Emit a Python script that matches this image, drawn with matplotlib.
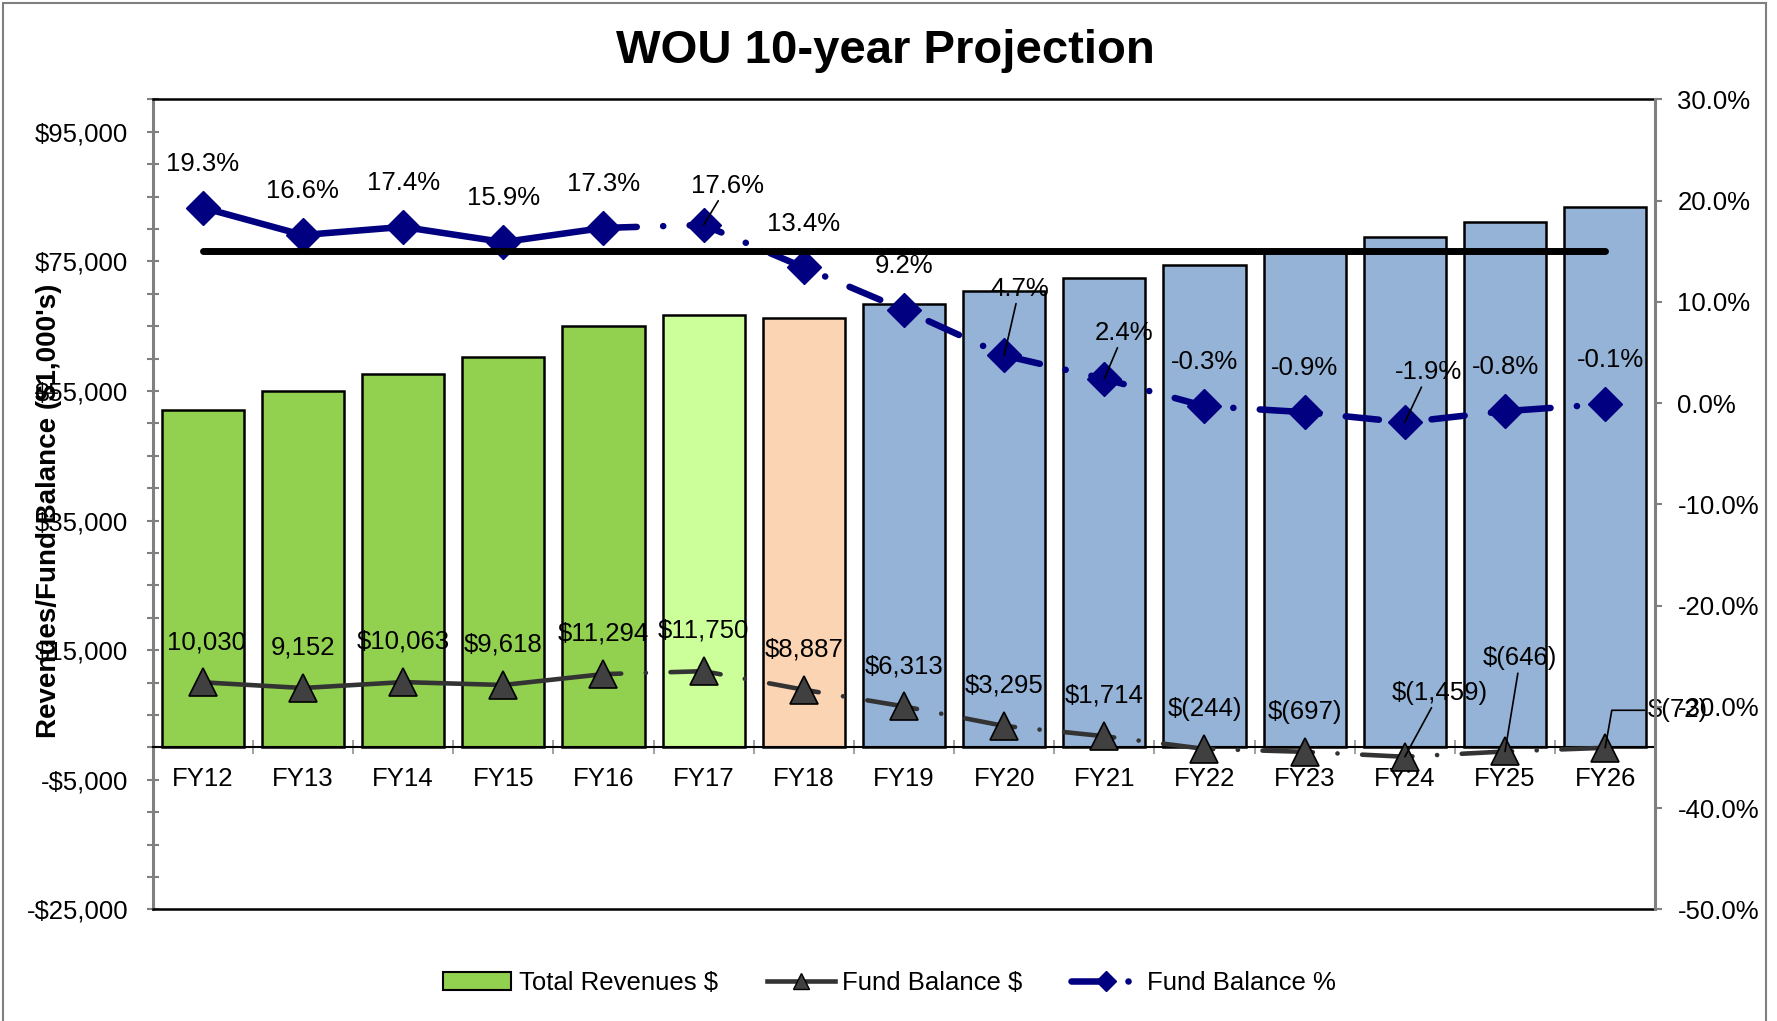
import matplotlib
matplotlib.use('Agg')
import matplotlib.pyplot as plt
from matplotlib.lines import Line2D
from matplotlib.patches import Patch, Rectangle
from matplotlib.ticker import FuncFormatter, FixedLocator, MultipleLocator
import numpy as np

plt.rcParams['font.family'] = ['Liberation Sans', 'DejaVu Sans']
plt.rcParams['lines.scale_dashes'] = False

# data ($1,000's)
years = ['FY12', 'FY13', 'FY14', 'FY15', 'FY16', 'FY17', 'FY18', 'FY19',
         'FY20', 'FY21', 'FY22', 'FY23', 'FY24', 'FY25', 'FY26']
revenues = [52060, 55040, 57670, 60240, 65080, 66670, 66310, 68430,
            70370, 72380, 74450, 76600, 78710, 81030, 83340]
fund_bal = [10030, 9152, 10063, 9618, 11294, 11750, 8887, 6313,
            3295, 1714, -244, -697, -1459, -646, -72]
fund_bal_labels = ['10,030', '9,152', '$10,063', '$9,618', '$11,294', '$11,750',
                   '$8,887', '$6,313', '$3,295', '$1,714', '$(244)', '$(697)',
                   '$(1,459)', '$(646)', '$(72)']
fund_pct = [19.3, 16.6, 17.4, 15.9, 17.3, 17.6, 13.4, 9.2,
            4.7, 2.4, -0.3, -0.9, -1.9, -0.8, -0.1]
target_pct = 15.0

# bar colours: actual / current year / budget / projected
bar_colors = ['#92D050'] * 5 + ['#CCFF99'] + ['#FBD4B4'] + ['#95B3D7'] * 8

navy = '#000080'
dark = '#333333'

fig = plt.figure(figsize=(17.77, 10.21), dpi=100)
ax = fig.add_axes([0.0859, 0.1094, 0.8456, 0.7933])
ax2 = ax.twinx()

x = np.arange(len(years))

# bars
ax.bar(x, revenues, width=0.82, color=bar_colors, edgecolor='black', linewidth=1.8, zorder=2)

# fund balance $ : solid for actuals, dash-dot afterwards
ax.plot(x[:5], fund_bal[:5], color=dark, lw=3.3, solid_capstyle='round', zorder=3)
ax.plot(x[4:], fund_bal[4:], color=dark, lw=3.3, dash_capstyle='round',
        linestyle=(23.5, (36.3, 17.7, 0.1, 17.7)), zorder=3)
ax.plot(x, fund_bal, linestyle='none', marker='^', ms=20, mfc='#404040',
        mec='black', mew=1.2, zorder=4)

# target line + fund balance %
ax2.plot(x[:5], fund_pct[:5], color=navy, lw=4.7, solid_capstyle='round', zorder=3)
ax2.plot(x[4:], fund_pct[4:], color=navy, lw=4.7, dash_capstyle='round',
         linestyle=(0, (24, 19, 0.1, 19)), zorder=3)
ax2.plot(x, fund_pct, linestyle='none', marker='D', ms=17, color=navy, zorder=4)
ax2.plot(x, [target_pct] * len(x), color='black', lw=5, solid_capstyle='round', zorder=5)

# axis ranges / ticks
ax.set_xlim(-0.5, len(years) - 0.5)
ax.set_ylim(-25000, 100000)
ax2.set_ylim(-50, 30)

ax.yaxis.set_major_locator(FixedLocator(np.arange(-25000, 100000, 20000)))
ax.yaxis.set_minor_locator(MultipleLocator(5000))
ax.yaxis.set_major_formatter(FuncFormatter(
    lambda v, p: ('-$' if v < 0 else '$') + format(abs(int(v)), ',')))
ax.tick_params(axis='y', which='both', direction='inout', length=9, width=1.5,
               color='#808080', labelsize=18.5, pad=13)

ax.set_xticks(x)
ax.set_xticklabels(years)
ax.xaxis.set_minor_locator(FixedLocator(np.arange(-0.5, len(years), 1.0)))
ax.tick_params(axis='x', which='major', length=0, labelsize=18.5, pad=14.5)
ax.tick_params(axis='x', which='minor', direction='inout', length=10, width=1.2,
               color='#909090')

ax2.yaxis.set_major_locator(MultipleLocator(10))
ax2.yaxis.set_major_formatter(FuncFormatter(lambda v, p: f'{v:.1f}%'))
ax2.tick_params(axis='y', direction='out', length=5, width=1.5, color='#808080',
                labelsize=18.5, pad=11)

# spines
ax.spines['bottom'].set_position(('data', 0))
ax.spines['bottom'].set_color('black')
ax.spines['bottom'].set_linewidth(1.5)
ax.spines['top'].set_color('black')
ax.spines['top'].set_linewidth(1.8)
ax.spines['left'].set_color('#808080')
ax.spines['left'].set_linewidth(2.2)
ax.spines['right'].set_visible(False)
for s in ['left', 'top', 'bottom']:
    ax2.spines[s].set_visible(False)
ax2.spines['right'].set_color('#808080')
ax2.spines['right'].set_linewidth(2.2)
ax.plot([0, 1], [0, 0], transform=ax.transAxes, color='black', lw=1.8, clip_on=False, zorder=6)

# data labels: fund balance %
pct_off = {5: (17, 28), 8: (11, 48), 9: (14, 33), 12: (17, 36), 14: (4, 31.5)}
pct_leader = [5, 8, 9, 12]
for i, v in enumerate(fund_pct):
    dx, dy = pct_off.get(i, (0, 31.5))
    ap = dict(arrowstyle='-', lw=1.2, color='black', shrinkA=0, shrinkB=0) if i in pct_leader else None
    ax2.annotate(f'{v:.1f}%', (x[i], v), xytext=(dx, dy), textcoords='offset points',
                 ha='center', va='center', fontsize=18.5, arrowprops=ap, zorder=7,
                 annotation_clip=False)

# data labels: fund balance $
bal_off = {0: (3, 29), 12: (25, 46), 13: (11, 67), 14: (52, 27)}
for i, v in enumerate(fund_bal):
    dx, dy = bal_off.get(i, (0, 29))
    ap = None
    if i in (12, 13):
        ap = dict(arrowstyle='-', lw=1.2, color='black', shrinkA=0, shrinkB=0)
    elif i == 14:
        ap = dict(arrowstyle='-', lw=1.2, color='black', shrinkA=0, shrinkB=0,
                  relpos=(0, 0.5), connectionstyle='angle,angleA=0,angleB=80,rad=0')
    ax.annotate(fund_bal_labels[i], (x[i], v), xytext=(dx, dy), textcoords='offset points',
                ha='center', va='center', fontsize=18.5, arrowprops=ap, zorder=7,
                annotation_clip=False)

# titles
fig.text(0.498, 0.95, 'WOU 10-year Projection', ha='center', va='center',
         fontsize=34, fontweight='bold')
fig.text(0.0274, 0.4995, "Revenues/Fund Balance ($1,000's)", rotation=90,
         ha='center', va='center', fontsize=20, fontweight='bold')

# legend
handles = [
    Patch(facecolor='#92D050', edgecolor='black', linewidth=1.5),
    Line2D([], [], color=dark, lw=3.3, marker='^', ms=12, mfc='#404040', mec='black'),
    Line2D([], [], color=navy, lw=4.7, linestyle=(0, (22, 19, 0.1, 20)),
           dash_capstyle='round', marker='D', ms=10),
]
fig.legend(handles, ['Total Revenues $', 'Fund Balance $', 'Fund Balance %'],
           loc='center', bbox_to_anchor=(0.5006, 0.037), ncol=3, frameon=False,
           fontsize=18.5, handlelength=2.65, handletextpad=0.3, columnspacing=1.9)

# chart area border
fig.add_artist(Rectangle((3 / 1777, -0.01), 1763 / 1777, 1.01 - 3 / 1021, fill=False,
                         edgecolor='#7f7f7f', lw=1.5, transform=fig.transFigure))

fig.savefig('out.png', dpi=100)
